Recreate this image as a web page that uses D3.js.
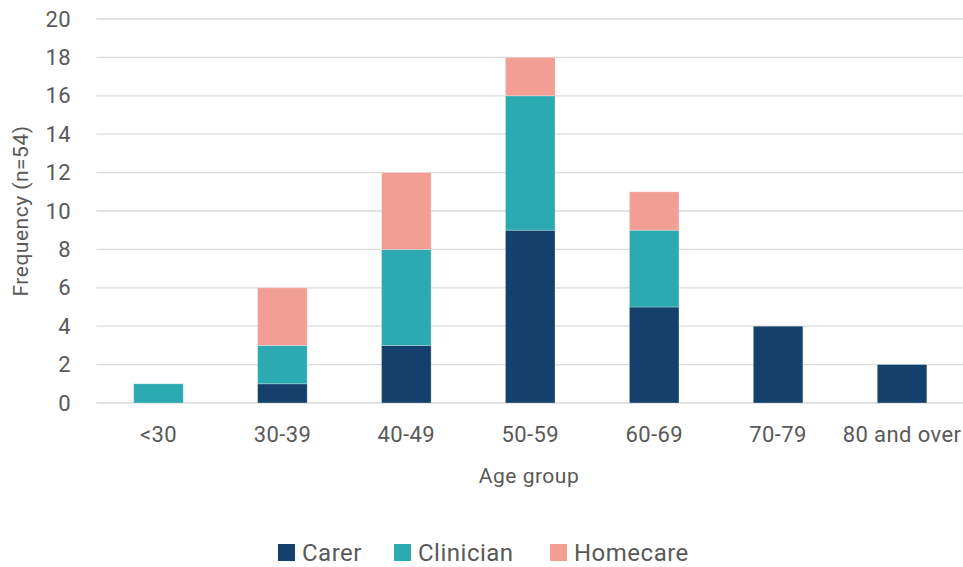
<!DOCTYPE html>
<html>
<head>
<meta charset="utf-8">
<script src="https://cdn.jsdelivr.net/npm/d3@7"></script>
<style>
  html, body { margin: 0; padding: 0; background: #fff; }
  svg { display: block; font-family: Roboto, "Open Sans", sans-serif; }
</style>
</head>
<body>
<svg id="chart" width="963" height="567"></svg>
<script>
// Age groups and counts per respondent type
const categories = ["<30", "30-39", "40-49", "50-59", "60-69", "70-79", "80 and over"];
const seriesNames = ["Carer", "Clinician", "Homecare"];
const carer = [0, 1, 3, 9, 5, 4, 2];
const clinician = [1, 2, 5, 7, 4, 0, 0];
const homecare = [0, 3, 4, 2, 2, 0, 0];
const yTicks = [0, 2, 4, 6, 8, 10, 12, 14, 16, 18, 20];
const colors = ["#14416b", "#2caab1", "#f39e94"];

const rows = categories.map((c, i) => ({
  group: c, Carer: carer[i], Clinician: clinician[i], Homecare: homecare[i]
}));

const svg = d3.select("#chart");
const W = 963;
const plotLeft = 96.5;
const textColor = "#595959";

const x = d3.scaleBand().domain(categories).range([plotLeft, 964]).paddingInner(0.6).paddingOuter(0.3);
const y = d3.scaleLinear().domain([0, 20]).range([403, 19]);

// horizontal gridlines
svg.append("g").selectAll("line").data(yTicks).join("line")
  .attr("x1", plotLeft).attr("x2", W)
  .attr("y1", d => y(d)).attr("y2", d => y(d))
  .attr("stroke", "#d9d9d9").attr("stroke-width", 1.3);

// stacked bars
const stack = d3.stack().keys(seriesNames)(rows);
svg.append("g").selectAll("g").data(stack).join("g")
  .attr("fill", (d, i) => colors[i])
  .selectAll("rect").data(d => d.filter(s => s[1] - s[0] > 0)).join("rect")
  .attr("x", d => x(d.data.group))
  .attr("width", x.bandwidth())
  .attr("y", d => y(d[1]))
  .attr("height", d => y(d[0]) - y(d[1]))
  .attr("stroke", "rgba(255,255,255,0.35)")
  .attr("stroke-width", 0.8);

// y axis labels
const yAxis = d3.axisLeft(y).tickValues(yTicks).tickSize(0).tickPadding(0);
const gy = svg.append("g").attr("transform", "translate(71,0)").call(yAxis);
gy.select(".domain").remove();
gy.selectAll("text").attr("fill", textColor).attr("font-size", 22)
  .attr("letter-spacing", 0.4).attr("font-family", "Roboto, sans-serif");

// x axis labels
const xAxis = d3.axisBottom(x).tickSize(0).tickPadding(0);
const gx = svg.append("g").attr("transform", "translate(0,426)").call(xAxis);
gx.select(".domain").remove();
gx.selectAll("text").attr("fill", textColor).attr("font-size", 22)
  .attr("letter-spacing", 0.4).attr("font-family", "Roboto, sans-serif");

// axis titles
svg.append("text")
  .attr("transform", "translate(28,211) rotate(-90)")
  .attr("text-anchor", "middle")
  .attr("fill", textColor).attr("font-size", 21).attr("letter-spacing", 0.5)
  .text("Frequency (n=54)");

svg.append("text")
  .attr("x", 529).attr("y", 483)
  .attr("text-anchor", "middle")
  .attr("fill", textColor).attr("font-size", 21).attr("letter-spacing", 0.5)
  .text("Age group");

// legend
const legendX = [278, 394, 550];
const lg = svg.append("g").selectAll("g").data(seriesNames).join("g")
  .attr("transform", (d, i) => `translate(${legendX[i]},544)`);
lg.append("rect").attr("width", 17).attr("height", 17).attr("fill", (d, i) => colors[i]);
lg.append("text").attr("x", 24).attr("y", 17)
  .attr("fill", textColor).attr("font-size", 24).attr("letter-spacing", 0.5)
  .text(d => d);
</script>
</body>
</html>
